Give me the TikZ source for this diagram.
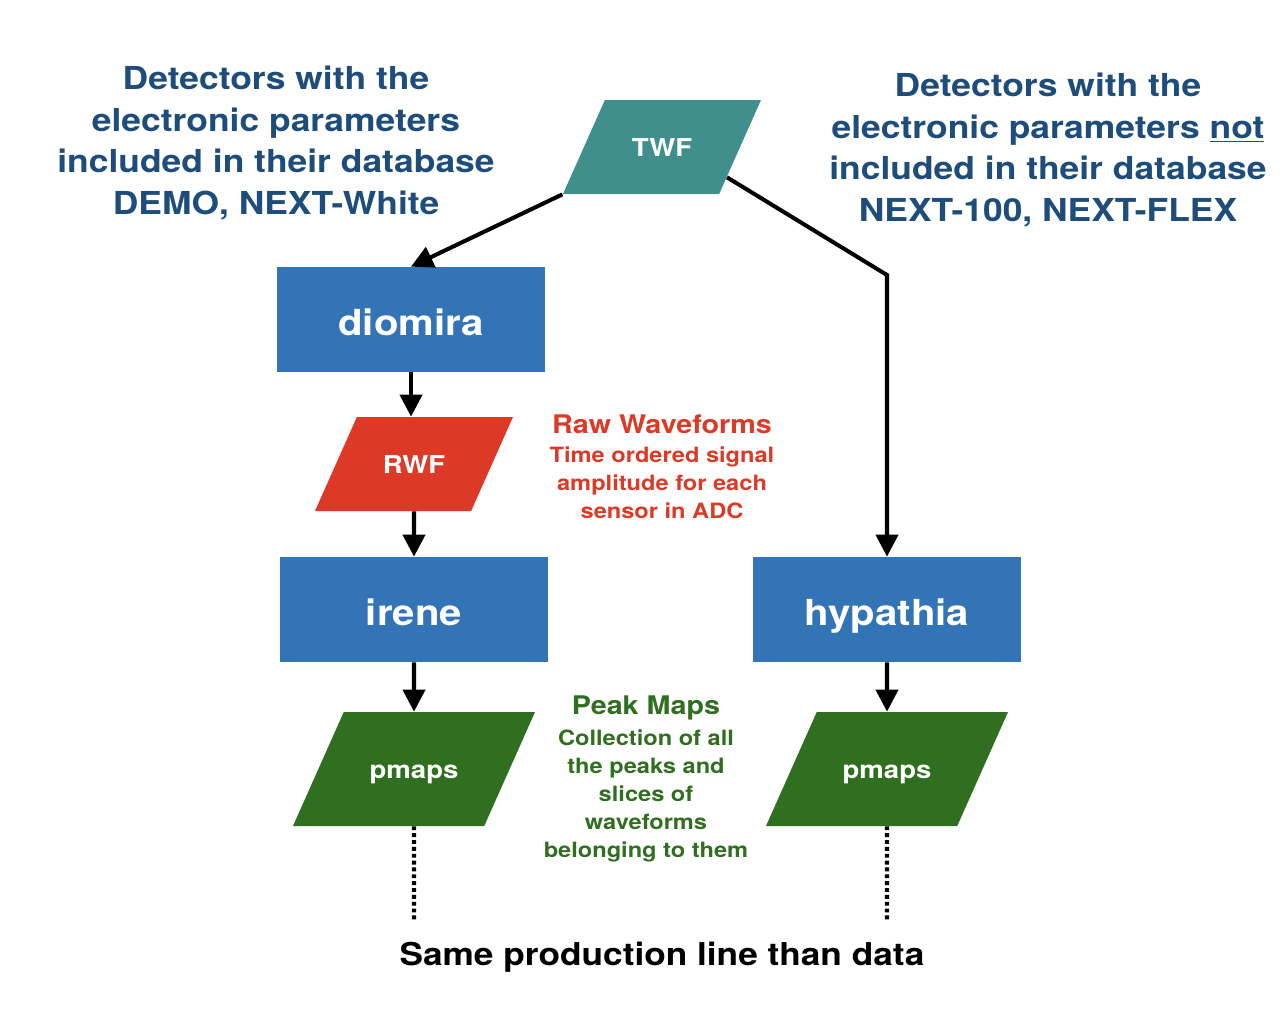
\documentclass[tikz,border=0pt]{standalone}
\usepackage{fontspec}
\setmainfont{TeX Gyre Heros}[FakeStretch=1.12]
\usetikzlibrary{shapes.geometric, arrows.meta, positioning, calc}
\definecolor{hdrblue}{RGB}{31,77,123}
\definecolor{progblue}{RGB}{50,116,181}
\definecolor{twfteal}{RGB}{64,143,140}
\definecolor{rwfred}{RGB}{220,58,38}
\definecolor{pmapgreen}{RGB}{49,111,32}
\tikzset{
  prog/.style={rectangle,fill=progblue,text=white,minimum width=5.36cm,minimum height=2.1cm,
    inner sep=0pt,text height=0.7cm,text depth=0.08cm,font=\bfseries\fontsize{20.4}{25}\selectfont},
  datab/.style={trapezium,trapezium left angle=66,trapezium right angle=114,trapezium stretches body,
    inner xsep=0pt,text height=0.41cm,text depth=0.04cm,text=white,
    font=\bfseries\fontsize{14}{17}\selectfont},
  flow/.style={-{Triangle[length=0.44cm,width=0.44cm]},line width=2.3pt},
  cont/.style={line width=2.3pt,dash pattern=on 2.2pt off 1.7pt},
  header/.style={text=hdrblue,align=center,font=\bfseries\fontsize{18}{23.8}\selectfont},
  notetitle/.style={align=center,inner sep=0pt,font=\bfseries\fontsize{14.6}{17}\selectfont},
  notebody/.style={align=center,inner sep=0pt,font=\bfseries\fontsize{12}{15.9}\selectfont}
}
\begin{document}
\begin{tikzpicture}
  \useasboundingbox (0,0) rectangle (25.68,-20.28);

  % ── Headers ───────────────────────────────────────────────────────────────
  \node[header] (hdrleft) at (5.52,-2.86)
    {Detectors with the\\electronic parameters\\included in their database\\DEMO, NEXT-White};
  \node[header] (hdrright) at (20.96,-3.0)
    {Detectors with the\\electronic parameters \underline{not}\\included in their database\\NEXT-100, NEXT-FLEX};

  % ── Data and programs ────────────────────────────────────────────────────
  \node[datab,fill=twfteal,minimum width=3.96cm,inner ysep=0.715cm] (TWF) at (13.24,-2.94) {TWF};
  \node[prog] (diomira) at (8.22,-6.39) {diomira};
  \node[datab,fill=rwfred,minimum width=3.96cm,inner ysep=0.715cm] (RWF) at (8.28,-9.28) {RWF};
  \node[prog] (irene) at (8.28,-12.19) {irene};
  \node[prog] (hypathia) at (17.74,-12.19) {hypathia};
  \node[datab,fill=pmapgreen,minimum width=4.84cm,inner ysep=0.915cm] (pmapsL) at (8.28,-15.38) {pmaps};
  \node[datab,fill=pmapgreen,minimum width=4.84cm,inner ysep=0.915cm] (pmapsR) at (17.74,-15.38) {pmaps};

  % ── Connectors ───────────────────────────────────────────────────────────
  \coordinate (bend) at (hypathia.north |- 0,-5.5);
  \draw[flow] (TWF.bottom left corner) -- (diomira.north);
  \draw[flow] ($(TWF.bottom right corner)!0.18!(TWF.top right corner)$) -- (bend) -- (hypathia.north);
  \draw[flow] (diomira.south) -- (diomira.south |- RWF.north);
  \draw[flow] (RWF.south) -- (irene.north);
  \draw[flow] (irene.south) -- (pmapsL.north);
  \draw[flow] (hypathia.south) -- (pmapsR.north);

  % ── Same line onwards ────────────────────────────────────────────────────
  \coordinate (endL) at (8.28,-18.4);
  \coordinate (endR) at (17.74,-18.4);
  \draw[cont] (pmapsL.south) -- (endL);
  \draw[cont] (pmapsR.south) -- (endR);

  % ── Annotations ──────────────────────────────────────────────────────────
  \node[notetitle,text=rwfred] (rawtitle) at (13.24,-8.48) {Raw Waveforms};
  \node[notebody,text=rwfred,below=7pt of rawtitle] (rawbody)
    {Time ordered signal\\amplitude for each\\sensor in ADC};
  \node[notetitle,text=pmapgreen] (peaktitle) at (12.92,-14.16) {Peak Maps};
  \node[notebody,text=pmapgreen,below=5pt of peaktitle] (peakbody)
    {Collection of all\\the peaks and\\slices of\\waveforms\\belonging to them};

  \node[font=\bfseries\fontsize{17.9}{20}\selectfont] (sameline) at (13.24,-19.14)
    {Same production line than data};
\end{tikzpicture}
\end{document}
